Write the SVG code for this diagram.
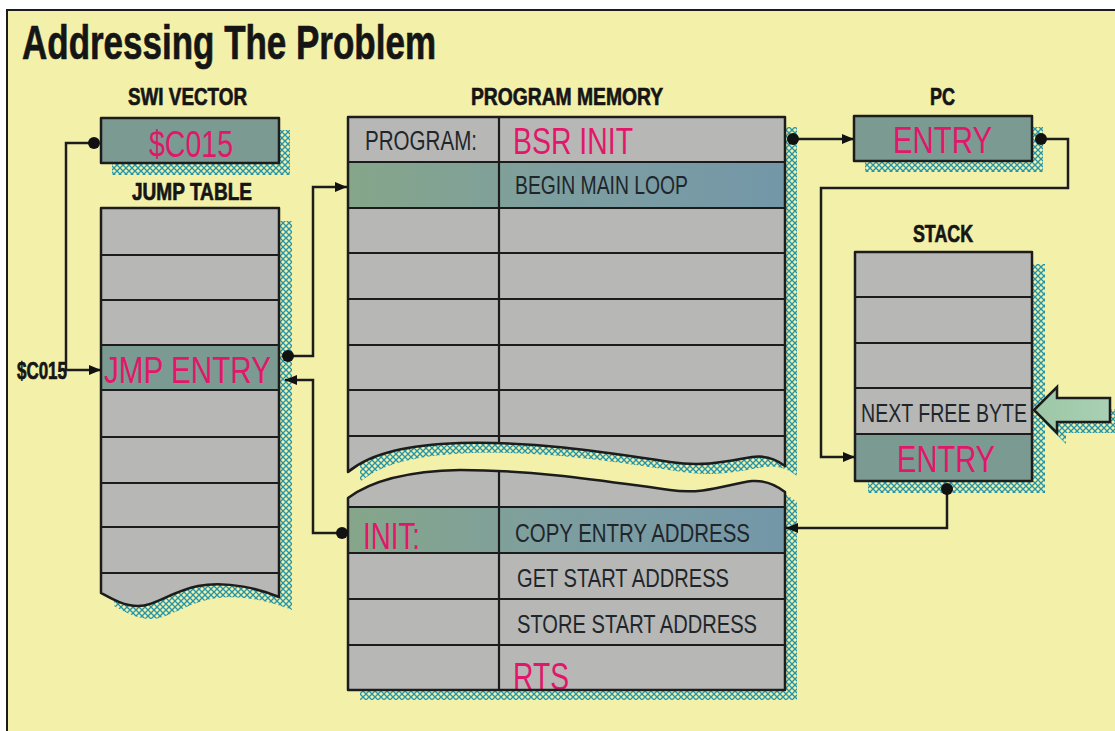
<svg xmlns="http://www.w3.org/2000/svg" width="1115" height="731" viewBox="0 0 1115 731">
<style>
.bg{fill:#f3f0aa}
.cell{fill:#b7b7b5}
.teal{fill:#7b9a92}
.ol{fill:none;stroke:#1c1c1c;stroke-width:2.5;stroke-linejoin:round}
.rl{stroke:#1c1c1c;stroke-width:2.2;fill:none}
.hatch{fill:url(#hx)}
.lbl{font-family:"Liberation Sans Narrow","Liberation Sans",Arial,sans-serif;font-weight:bold;fill:#151515;stroke:#151515;stroke-width:0.7}
.pk{font-family:"Liberation Sans Narrow","Liberation Sans",Arial,sans-serif;fill:#e0176a}
.dk{font-family:"Liberation Sans Narrow","Liberation Sans",Arial,sans-serif;fill:#1f262b}
.con{fill:none;stroke:#1c1c1c;stroke-width:2.5;stroke-linejoin:miter}
.dot{fill:#111}
</style>
<defs>
<pattern id="hx" patternUnits="userSpaceOnUse" width="6" height="6">
<path d="M0,0 L6,6 M6,0 L0,6" stroke="#2494a8" stroke-width="1.3"/>
</pattern>
<linearGradient id="gRow" x1="0" y1="0" x2="1" y2="0">
<stop offset="0" stop-color="#86a68a"/>
<stop offset="0.5" stop-color="#7d9ea0"/>
<stop offset="1" stop-color="#7497a8"/>
</linearGradient>
<linearGradient id="gArrow" x1="0" y1="0" x2="1" y2="0">
<stop offset="0" stop-color="#9cc7a6"/>
<stop offset="1" stop-color="#a9d0b4"/>
</linearGradient>
<marker id="ah" markerWidth="12" markerHeight="10" refX="12" refY="5" orient="auto" markerUnits="userSpaceOnUse">
<path d="M0,0 L12,5 L0,10 Z" fill="#111"/>
</marker>
<clipPath id="cU"><path d="M348,117 H785 V466 C776,459 766,455 752,457 C728,461 705,467 670,462 C610,453 540,441 460,443 C410,445 372,452 348,472 Z"/></clipPath>
<clipPath id="cL"><path d="M348,498 C372,480 410,471 460,470 C540,470 610,482 670,490 C705,495 728,484 752,481 C766,480 776,485 785,492 V690 H348 Z"/></clipPath>
<clipPath id="cJ"><path d="M101,208 H279 V597 C262,590 228,580 198,586 C170,592 155,606 138,606 C124,606 112,599 101,593 Z"/></clipPath>
</defs>

<rect x="0" y="0" width="1115" height="731" fill="#ffffff"/>
<rect x="7" y="10" width="1120" height="730" class="bg" stroke="#1c1c1c" stroke-width="2"/>

<text x="22" y="59" class="lbl" font-size="48" stroke-width="1.4" textLength="414" lengthAdjust="spacingAndGlyphs">Addressing The Problem</text>

<g id="swi-vector">
<text x="128" y="105" class="lbl" font-size="24" textLength="119" lengthAdjust="spacingAndGlyphs">SWI VECTOR</text>
<rect x="112" y="130" width="178" height="45" class="hatch"/>
<rect x="101" y="118" width="178" height="45" class="teal"/>
<rect x="101" y="118" width="178" height="45" class="ol"/>
<text x="149" y="157" class="pk" font-size="37" textLength="84" lengthAdjust="spacingAndGlyphs">$C015</text>
</g>

<g id="jump-table">
<text x="132" y="200" class="lbl" font-size="24" textLength="120" lengthAdjust="spacingAndGlyphs">JUMP TABLE</text>
<path transform="translate(13,13)" d="M101,208 H279 V597 C262,590 228,580 198,586 C170,592 155,606 138,606 C124,606 112,599 101,593 Z" class="hatch"/>
<g clip-path="url(#cJ)">
<rect x="101" y="208" width="178" height="400" class="cell"/>
<rect x="101" y="345" width="178" height="45" class="teal"/>
<path class="rl" d="M101,255 H279 M101,300 H279 M101,345 H279 M101,390 H279 M101,437 H279 M101,483 H279 M101,527 H279 M101,573 H279"/>
</g>
<path d="M101,208 H279 V597 C262,590 228,580 198,586 C170,592 155,606 138,606 C124,606 112,599 101,593 Z" class="ol"/>
<text x="104" y="383" class="pk" font-size="37" textLength="167" lengthAdjust="spacingAndGlyphs">JMP ENTRY</text>
<text x="17" y="379" class="lbl" font-size="24" textLength="50" lengthAdjust="spacingAndGlyphs">$C015</text>
</g>

<g id="program-memory">
<text x="471" y="105" class="lbl" font-size="24" textLength="192" lengthAdjust="spacingAndGlyphs">PROGRAM MEMORY</text>
<path transform="translate(12,10)" d="M348,117 H785 V466 C776,459 766,455 752,457 C728,461 705,467 670,462 C610,453 540,441 460,443 C410,445 372,452 348,472 Z" class="hatch"/>
<g clip-path="url(#cU)">
<rect x="348" y="117" width="437" height="360" class="cell"/>
<rect x="348" y="162" width="437" height="46" fill="url(#gRow)"/>
<path class="rl" d="M348,162 H785 M348,208 H785 M348,253 H785 M348,299 H785 M348,345 H785 M348,390 H785 M348,436 H785 M499,117 V480"/>
</g>
<path d="M348,117 H785 V466 C776,459 766,455 752,457 C728,461 705,467 670,462 C610,453 540,441 460,443 C410,445 372,452 348,472 Z" class="ol"/>
<text x="365" y="150" class="dk" font-size="27" textLength="112" lengthAdjust="spacingAndGlyphs">PROGRAM:</text>
<text x="513" y="154" class="pk" font-size="37" textLength="120" lengthAdjust="spacingAndGlyphs">BSR INIT</text>
<text x="515" y="194" class="dk" font-size="26" textLength="173" lengthAdjust="spacingAndGlyphs">BEGIN MAIN LOOP</text>
</g>

<g id="program-memory-init">
<path transform="translate(12,10)" d="M348,498 C372,480 410,471 460,470 C540,470 610,482 670,490 C705,495 728,484 752,481 C766,480 776,485 785,492 V690 H348 Z" class="hatch"/>
<g clip-path="url(#cL)">
<rect x="348" y="465" width="437" height="226" class="cell"/>
<rect x="348" y="507" width="437" height="46" fill="url(#gRow)"/>
<path class="rl" d="M348,507 H785 M348,553 H785 M348,599 H785 M348,645 H785 M499,460 V690"/>
<text x="513" y="690" class="pk" font-size="38" textLength="56" lengthAdjust="spacingAndGlyphs">RTS</text>
</g>
<path d="M348,498 C372,480 410,471 460,470 C540,470 610,482 670,490 C705,495 728,484 752,481 C766,480 776,485 785,492 V690 H348 Z" class="ol"/>
<text x="363" y="549" class="pk" font-size="37" textLength="57" lengthAdjust="spacingAndGlyphs">INIT:</text>
<text x="515" y="542" class="dk" font-size="26" textLength="235" lengthAdjust="spacingAndGlyphs">COPY ENTRY ADDRESS</text>
<text x="517" y="587" class="dk" font-size="26" textLength="212" lengthAdjust="spacingAndGlyphs">GET START ADDRESS</text>
<text x="517" y="633" class="dk" font-size="26" textLength="240" lengthAdjust="spacingAndGlyphs">STORE START ADDRESS</text>
</g>

<g id="pc">
<text x="930" y="105" class="lbl" font-size="24" textLength="25" lengthAdjust="spacingAndGlyphs">PC</text>
<rect x="865" y="127" width="178" height="45" class="hatch"/>
<rect x="854" y="116" width="178" height="45" class="teal"/>
<rect x="854" y="116" width="178" height="45" class="ol"/>
<text x="893" y="153" class="pk" font-size="37" textLength="99" lengthAdjust="spacingAndGlyphs">ENTRY</text>
</g>

<g id="stack">
<text x="913" y="242" class="lbl" font-size="24" textLength="60" lengthAdjust="spacingAndGlyphs">STACK</text>
<rect x="868" y="264" width="177" height="229" class="hatch"/>
<rect x="855" y="252" width="177" height="229" class="cell"/>
<rect x="855" y="434" width="177" height="47" class="teal"/>
<path class="rl" d="M855,297 H1032 M855,343 H1032 M855,388 H1032 M855,434 H1032"/>
<rect x="855" y="252" width="177" height="229" class="ol"/>
<text x="861" y="422" class="dk" font-size="26" textLength="166" lengthAdjust="spacingAndGlyphs">NEXT FREE BYTE</text>
<text x="897" y="472" class="pk" font-size="37" textLength="98" lengthAdjust="spacingAndGlyphs">ENTRY</text>
</g>

<g id="next-free-pointer">
<path transform="translate(9,11)" d="M1034,410 L1057,387 V398 H1120 V422 H1057 V433 Z" class="hatch"/>
<path d="M1034,410 L1057,387 V398 H1110 V422 H1057 V433 Z" fill="url(#gArrow)" stroke="#1c1c1c" stroke-width="2.5" stroke-linejoin="miter"/>
</g>

<g id="connectors">
<path class="con" d="M94,143 H66 V370 H101" marker-end="url(#ah)"/>
<circle cx="94" cy="143" r="6" class="dot"/>
<path class="con" d="M288,356 H313 V187 H347" marker-end="url(#ah)"/>
<circle cx="288" cy="356" r="6" class="dot"/>
<path class="con" d="M342,533 H313 V380 H285" marker-end="url(#ah)"/>
<circle cx="342" cy="533" r="6" class="dot"/>
<path class="con" d="M793,139 H854" marker-end="url(#ah)"/>
<circle cx="793" cy="139" r="6" class="dot"/>
<path class="con" d="M1041,139 H1068 V188 H821 V457 H855" marker-end="url(#ah)"/>
<circle cx="1041" cy="139" r="6" class="dot"/>
<path class="con" d="M947,489 V528 H786" marker-end="url(#ah)"/>
<circle cx="947" cy="489" r="6" class="dot"/>
</g>
</svg>
